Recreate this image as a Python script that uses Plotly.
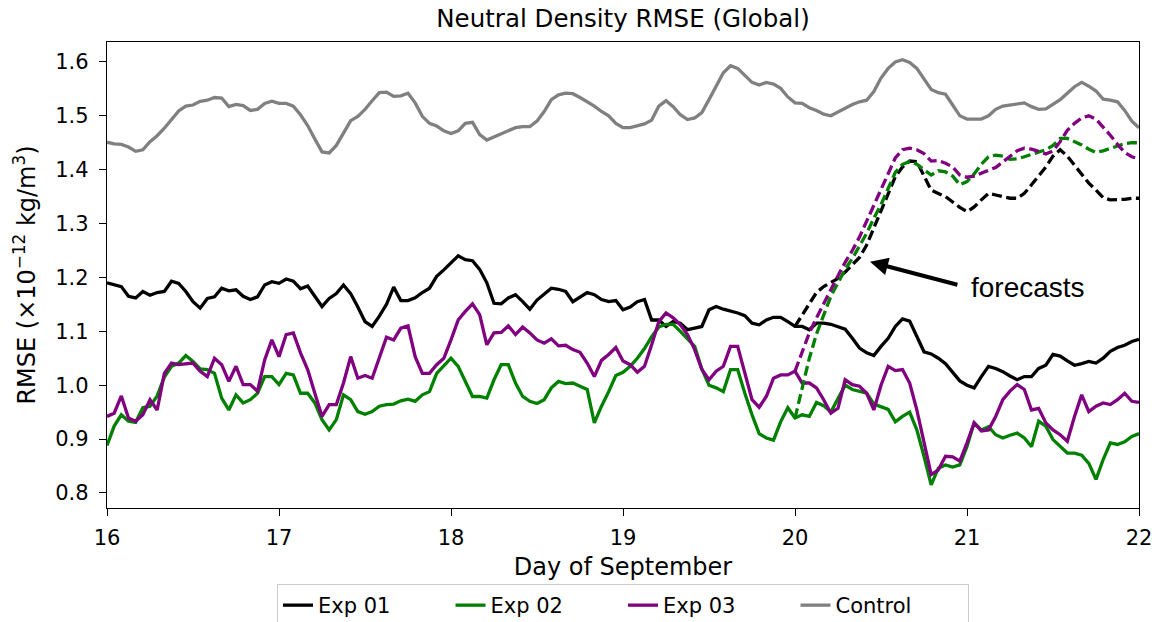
import plotly.graph_objects as go

# Hourly global neutral-density RMSE (x 1e-12 kg/m^3), 16 Sep 00 UT .. 22 Sep 00 UT
hours = list(range(0, 145))

exp01 = [
    1.190, 1.186, 1.183, 1.165, 1.162, 1.174, 1.167, 1.172, 1.174, 1.193, 1.189, 1.174,
    1.155, 1.143, 1.161, 1.164, 1.180, 1.175, 1.177, 1.165, 1.159, 1.164, 1.186, 1.192,
    1.189, 1.197, 1.193, 1.179, 1.184, 1.165, 1.146, 1.161, 1.170, 1.186, 1.170, 1.145,
    1.118, 1.109, 1.128, 1.150, 1.182, 1.157, 1.157, 1.162, 1.172, 1.180, 1.202, 1.214,
    1.227, 1.240, 1.233, 1.231, 1.215, 1.190, 1.152, 1.151, 1.162, 1.168, 1.155, 1.141,
    1.158, 1.170, 1.180, 1.178, 1.174, 1.155, 1.164, 1.172, 1.168, 1.159, 1.155, 1.157,
    1.140, 1.145, 1.155, 1.159, 1.121, 1.121, 1.109, 1.118, 1.115, 1.103, 1.106, 1.109,
    1.140, 1.146, 1.141, 1.138, 1.134, 1.129, 1.115, 1.112, 1.121, 1.126, 1.126, 1.118,
    1.109, 1.109, 1.103, 1.115, 1.115, 1.113, 1.109, 1.104, 1.087, 1.069, 1.060, 1.055,
    1.072, 1.087, 1.109, 1.123, 1.119, 1.090, 1.062, 1.058, 1.050, 1.040, 1.025, 1.008,
    1.000, 0.995, 1.016, 1.035, 1.031, 1.025, 1.017, 1.010, 1.016, 1.016, 1.031, 1.037,
    1.057, 1.054, 1.045, 1.037, 1.040, 1.044, 1.041, 1.050, 1.063, 1.070, 1.074, 1.081,
    1.085,
]

exp02 = [
    0.888, 0.924, 0.945, 0.933, 0.931, 0.958, 0.961, 0.980, 1.015, 1.035, 1.041, 1.055,
    1.044, 1.030, 1.029, 1.022, 0.976, 0.954, 0.982, 0.967, 0.973, 0.985, 1.016, 1.016,
    1.001, 1.022, 1.019, 0.985, 0.985, 0.967, 0.936, 0.917, 0.936, 0.982, 0.973, 0.951,
    0.946, 0.951, 0.961, 0.964, 0.965, 0.971, 0.974, 0.970, 0.982, 0.988, 1.022, 1.035,
    1.050, 1.035, 1.007, 0.979, 0.979, 0.976, 1.010, 1.038, 1.038, 1.004, 0.979, 0.970,
    0.966, 0.973, 0.995, 1.007, 1.003, 1.004, 0.998, 0.992, 0.930, 0.961, 0.988, 1.018,
    1.024, 1.035, 1.050, 1.068, 1.090, 1.108, 1.113, 1.113, 1.100, 1.085, 1.072, 1.030,
    1.000, 0.995, 0.988, 1.029, 1.029, 0.985, 0.945, 0.910, 0.902, 0.898, 0.932, 0.958,
    0.939, 0.945, 0.942, 0.968, 0.962, 0.950, 0.975, 1.000, 0.992, 0.989, 0.985, 0.965,
    0.960, 0.955, 0.932, 0.942, 0.950, 0.917, 0.868, 0.815, 0.846, 0.852, 0.848, 0.852,
    0.886, 0.930, 0.917, 0.923, 0.908, 0.902, 0.907, 0.911, 0.902, 0.886, 0.933, 0.924,
    0.899, 0.886, 0.874, 0.874, 0.870, 0.855, 0.825, 0.862, 0.893, 0.890, 0.895, 0.905,
    0.910,
]

exp03 = [
    0.942, 0.948, 0.980, 0.939, 0.933, 0.945, 0.973, 0.954, 1.022, 1.041, 1.038, 1.040,
    1.041, 1.026, 1.016, 1.050, 1.038, 1.007, 1.035, 1.001, 1.001, 0.989, 1.047, 1.084,
    1.053, 1.094, 1.097, 1.060, 1.029, 0.985, 0.942, 0.964, 0.964, 1.004, 1.053, 1.013,
    1.018, 1.013, 1.053, 1.089, 1.084, 1.106, 1.110, 1.053, 1.022, 1.022, 1.038, 1.050,
    1.084, 1.121, 1.137, 1.151, 1.131, 1.075, 1.097, 1.098, 1.110, 1.094, 1.108, 1.097,
    1.084, 1.078, 1.086, 1.073, 1.074, 1.066, 1.061, 1.041, 1.016, 1.046, 1.057, 1.070,
    1.045, 1.038, 1.024, 1.035, 1.075, 1.118, 1.134, 1.125, 1.112, 1.094, 1.066, 1.029,
    1.010, 1.026, 1.035, 1.072, 1.072, 1.023, 0.973, 0.959, 0.979, 1.013, 1.019, 1.019,
    1.026, 1.004, 1.004, 0.995, 0.973, 0.948, 0.957, 1.010, 1.001, 0.998, 0.985, 0.954,
    1.000, 1.035, 1.027, 1.029, 1.004, 0.954, 0.893, 0.834, 0.843, 0.868, 0.867, 0.859,
    0.893, 0.930, 0.915, 0.917, 0.942, 0.973, 0.989, 1.001, 0.992, 0.954, 0.957, 0.930,
    0.917, 0.908, 0.896, 0.942, 0.982, 0.951, 0.961, 0.967, 0.964, 0.973, 0.985, 0.970,
    0.968,
]

control = [
    1.451, 1.448, 1.447, 1.442, 1.434, 1.437, 1.452, 1.463, 1.477, 1.494, 1.509, 1.518,
    1.520, 1.527, 1.529, 1.534, 1.533, 1.517, 1.521, 1.519, 1.510, 1.512, 1.523, 1.527,
    1.523, 1.523, 1.518, 1.502, 1.482, 1.457, 1.433, 1.431, 1.445, 1.468, 1.491, 1.499,
    1.512, 1.528, 1.543, 1.544, 1.536, 1.537, 1.542, 1.524, 1.499, 1.486, 1.481, 1.472,
    1.467, 1.472, 1.486, 1.488, 1.465, 1.455, 1.461, 1.466, 1.472, 1.478, 1.480, 1.480,
    1.490, 1.508, 1.530, 1.539, 1.542, 1.541, 1.534, 1.526, 1.518, 1.508, 1.500, 1.486,
    1.478, 1.478, 1.482, 1.485, 1.492, 1.518, 1.528, 1.517, 1.502, 1.493, 1.496, 1.506,
    1.530, 1.555, 1.580, 1.593, 1.588, 1.575, 1.562, 1.557, 1.562, 1.559, 1.551, 1.535,
    1.524, 1.523, 1.515, 1.510, 1.503, 1.500, 1.507, 1.515, 1.521, 1.526, 1.529, 1.545,
    1.570, 1.588, 1.600, 1.604, 1.599, 1.588, 1.568, 1.549, 1.543, 1.540, 1.520, 1.500,
    1.494, 1.494, 1.494, 1.500, 1.512, 1.518, 1.520, 1.523, 1.524, 1.517, 1.512, 1.513,
    1.521, 1.530, 1.542, 1.554, 1.562, 1.555, 1.546, 1.531, 1.529, 1.526, 1.510, 1.490,
    1.478,
]

# Forecasts initialised 20 Sep 00 UT (hour 96) out to 22 Sep 00 UT
fc_hours = list(range(96, 145))

exp01_fc = [
    1.109, 1.130, 1.152, 1.172, 1.183, 1.190, 1.198, 1.210, 1.223, 1.237, 1.260, 1.292,
    1.325, 1.357, 1.387, 1.405, 1.416, 1.415, 1.390, 1.362, 1.356, 1.350, 1.340, 1.330,
    1.322, 1.331, 1.344, 1.356, 1.353, 1.350, 1.347, 1.347, 1.356, 1.372, 1.388, 1.405,
    1.425, 1.437, 1.425, 1.408, 1.390, 1.375, 1.362, 1.348, 1.344, 1.344, 1.345, 1.347,
    1.347,
]

exp02_fc = [
    0.939, 0.995, 1.050, 1.095, 1.130, 1.165, 1.190, 1.215, 1.235, 1.258, 1.282, 1.310,
    1.335, 1.365, 1.395, 1.410, 1.415, 1.410, 1.400, 1.390, 1.398, 1.396, 1.388, 1.372,
    1.378, 1.392, 1.410, 1.424, 1.427, 1.425, 1.419, 1.420, 1.424, 1.428, 1.433, 1.437,
    1.445, 1.458, 1.458, 1.452, 1.446, 1.438, 1.432, 1.435, 1.440, 1.444, 1.448, 1.450,
    1.450,
]

exp03_fc = [
    1.026, 1.062, 1.097, 1.125, 1.152, 1.178, 1.203, 1.228, 1.250, 1.275, 1.305, 1.335,
    1.365, 1.395, 1.422, 1.437, 1.440, 1.437, 1.430, 1.416, 1.417, 1.412, 1.405, 1.390,
    1.386, 1.388, 1.394, 1.399, 1.404, 1.414, 1.425, 1.435, 1.440, 1.438, 1.434, 1.429,
    1.435, 1.452, 1.473, 1.486, 1.496, 1.500, 1.494, 1.480, 1.464, 1.447, 1.432, 1.424,
    1.420,
]

series_names = ["Exp 01", "Exp 02", "Exp 03", "Control"]
series_colors = ["#000000", "#008000", "#800080", "#808080"]
x_ticks = [16, 17, 18, 19, 20, 21, 22]
y_ticks = [0.8, 0.9, 1.0, 1.1, 1.2, 1.3, 1.4, 1.5, 1.6]


def to_day(hrs):
    return [16 + h / 24.0 for h in hrs]


FONT = "DejaVu Sans"
LW = 3.3

fig = go.Figure()

for name, color, vals in zip(series_names, series_colors, [exp01, exp02, exp03, control]):
    fig.add_trace(go.Scatter(
        x=to_day(hours), y=vals, mode="lines", name=name,
        line=dict(color=color, width=LW),
    ))

for color, vals in zip(series_colors[:3], [exp01_fc, exp02_fc, exp03_fc]):
    fig.add_trace(go.Scatter(
        x=to_day(fc_hours), y=vals, mode="lines", showlegend=False,
        line=dict(color=color, width=LW, dash="10px,4.5px"),
    ))

axis_common = dict(
    showline=True, mirror=True, linecolor="black", linewidth=1.3,
    ticks="outside", ticklen=7, tickwidth=1.3, tickcolor="black",
    showgrid=False, zeroline=False,
    tickfont=dict(family=FONT, size=21, color="black"),
)

fig.update_layout(
    width=1155, height=622, autosize=False,
    paper_bgcolor="white", plot_bgcolor="white",
    margin=dict(l=107, r=16, t=42, b=114, autoexpand=False),
    title=dict(
        text="Neutral Density RMSE (Global)",
        font=dict(family=FONT, size=24.5, color="black"),
        x=0.5, xref="paper", xanchor="center",
        y=1 - 18 / 622, yref="container", yanchor="middle",
    ),
    xaxis=dict(
        range=[16, 22], tickvals=x_ticks, ticktext=[str(t) for t in x_ticks],
        title=dict(text="Day of September", font=dict(family=FONT, size=24, color="black"), standoff=8),
        ticklabelstandoff=4,
        **axis_common,
    ),
    yaxis=dict(
        range=[0.772, 1.637], tickvals=y_ticks, ticktext=[f"{t:.1f}" for t in y_ticks],
        title=dict(
            text="RMSE (×10<sup>−12</sup> kg/m<sup>3</sup>)",
            font=dict(family=FONT, size=24, color="black"), standoff=12,
        ),
        ticklabelstandoff=6,
        **axis_common,
    ),
    showlegend=True,
    legend=dict(
        orientation="h", x=0.5, xanchor="center", xref="paper",
        y=-(584 - 508) / 466, yanchor="top", yref="paper",
        font=dict(family=FONT, size=21, color="black"),
        bordercolor="#cccccc", borderwidth=1, bgcolor="white",
        entrywidth=127.5, entrywidthmode="pixels",
        itemwidth=30, traceorder="normal",
    ),
)

# Label with an arrow pointing at the forecast curves
fig.add_annotation(
    x=16 + (870 - 107) / 172.0, y=1.229, xref="x", yref="y",
    text="forecasts", xanchor="left", yanchor="middle",
    font=dict(family="Arial, Liberation Sans", size=28, color="black"),
    showarrow=True, arrowhead=2, arrowsize=0.9, arrowwidth=4, arrowcolor="black",
    ax=99, ay=26, axref="pixel", ayref="pixel", startstandoff=12,
)

fig.write_html("out.html")
